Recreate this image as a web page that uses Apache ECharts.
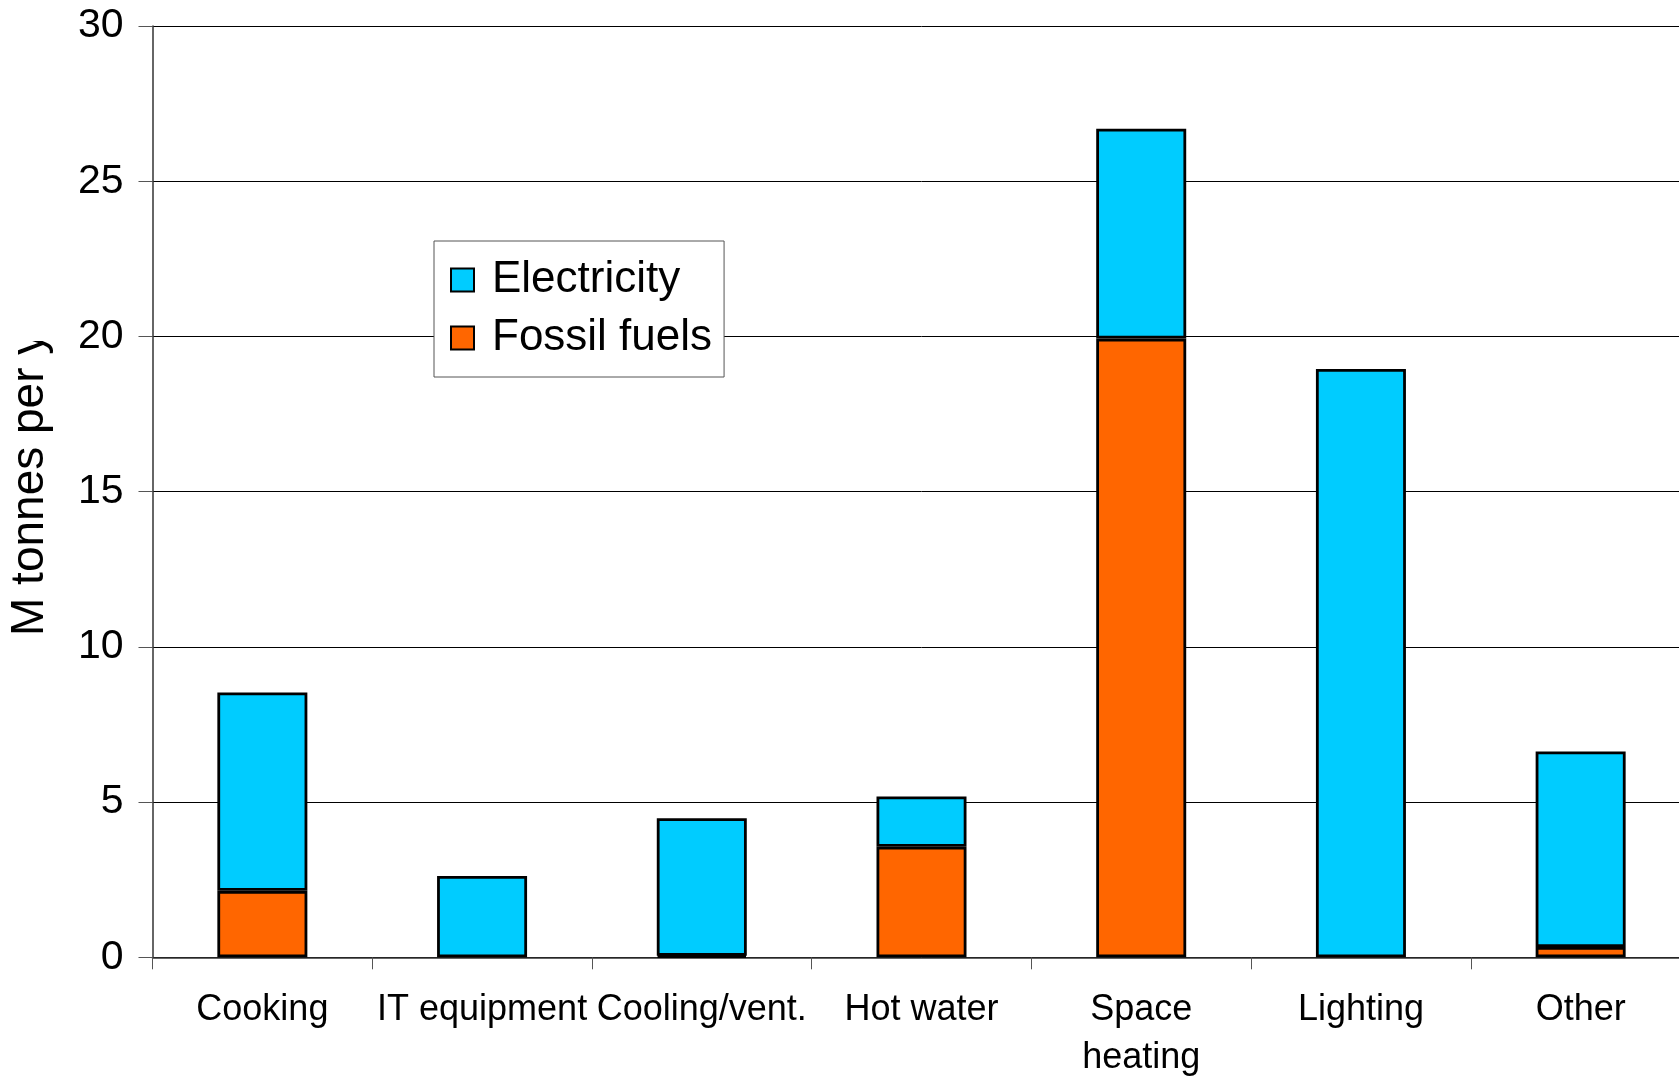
<!DOCTYPE html>
<html>
<head>
<meta charset="utf-8">
<title>CO2 emissions by end use</title>
<script src="https://cdn.jsdelivr.net/npm/echarts@6/dist/echarts.min.js"></script>
<style>
  html, body { margin: 0; padding: 0; background: #fff; overflow: hidden; }
  /* the plot runs a little past the right edge of the page */
  #chart { width: 1700px; height: 1087px; }
</style>
</head>
<body>
<div id="chart"></div>
<script>
// End uses shown along the category axis
const categories = ['Cooking', 'IT equipment', 'Cooling/vent.', 'Hot water', 'Space\nheating', 'Lighting', 'Other'];

// Emissions in Mt per year, split by energy source (stacked); null = none
const fossilFuels = [2.14, null, 0.05, 3.56, 19.93, null, 0.33];
const electricity = [6.39, 2.62, 4.43, 1.62, 6.76, 18.95, 6.30];

// Value axis ticks
const yMin = 0;
const yMax = 30;
const yStep = 5;

const FONT = '"Liberation Sans", Arial, Helvetica, sans-serif';

const chart = echarts.init(document.getElementById('chart'), null, { renderer: 'canvas' });

const barStyle = (color) => ({
  color: color,
  borderColor: '#000',
  borderWidth: 2.8
});

chart.setOption({
  animation: false,
  backgroundColor: '#fff',
  grid: {
    left: 152.5,
    top: 26,
    width: 1538,
    height: 931.3,
    containLabel: false
  },
  legend: {
    orient: 'vertical',
    left: 434,
    top: 241,
    data: ['Electricity', 'Fossil fuels'],
    itemWidth: 23,
    itemHeight: 23,
    itemGap: 14,
    icon: 'rect',
    padding: [17, 12, 17, 16],
    backgroundColor: '#fff',
    borderColor: '#555',
    borderWidth: 1,
    textStyle: {
      fontFamily: FONT,
      fontSize: 44,
      color: '#000',
      padding: [0, 0, 0, 13]
    }
  },
  xAxis: {
    type: 'category',
    data: categories,
    boundaryGap: true,
    axisLine: { lineStyle: { color: '#333', width: 1.5 } },
    axisTick: { show: true, length: 12, lineStyle: { color: '#555', width: 1 } },
    axisLabel: {
      interval: 0,
      margin: 29,
      fontFamily: FONT,
      fontSize: 36,
      lineHeight: 48,
      color: '#000'
    }
  },
  yAxis: {
    type: 'value',
    min: yMin,
    max: yMax,
    interval: yStep,
    axisLine: { show: true, lineStyle: { color: '#333', width: 1.5 } },
    axisTick: { show: true, length: 14, lineStyle: { color: '#555', width: 1 } },
    axisLabel: {
      margin: 29,
      fontFamily: FONT,
      fontSize: 41,
      color: '#000'
    },
    splitLine: { show: true, lineStyle: { color: '#000', width: 1 } }
  },
  series: [
    {
      name: 'Fossil fuels',
      type: 'bar',
      stack: 'total',
      barWidth: 90,
      data: fossilFuels,
      itemStyle: barStyle('#FF6600')
    },
    {
      name: 'Electricity',
      type: 'bar',
      stack: 'total',
      barWidth: 90,
      data: electricity,
      itemStyle: barStyle('#00CCFF')
    }
  ],
  graphic: [
    {
      type: 'text',
      x: 30,
      y: 636,
      rotation: Math.PI / 2,
      z: 10,
      style: {
        text: 'M tonnes per y',
        font: '46px ' + FONT,
        fill: '#000',
        textAlign: 'left',
        textVerticalAlign: 'middle'
      }
    },
    {
      // the title runs past the top of its frame and is cut there
      type: 'rect',
      z: 11,
      shape: { x: 0, y: 0, width: 64, height: 341 },
      style: { fill: '#fff' }
    }
  ]
});
</script>
</body>
</html>
